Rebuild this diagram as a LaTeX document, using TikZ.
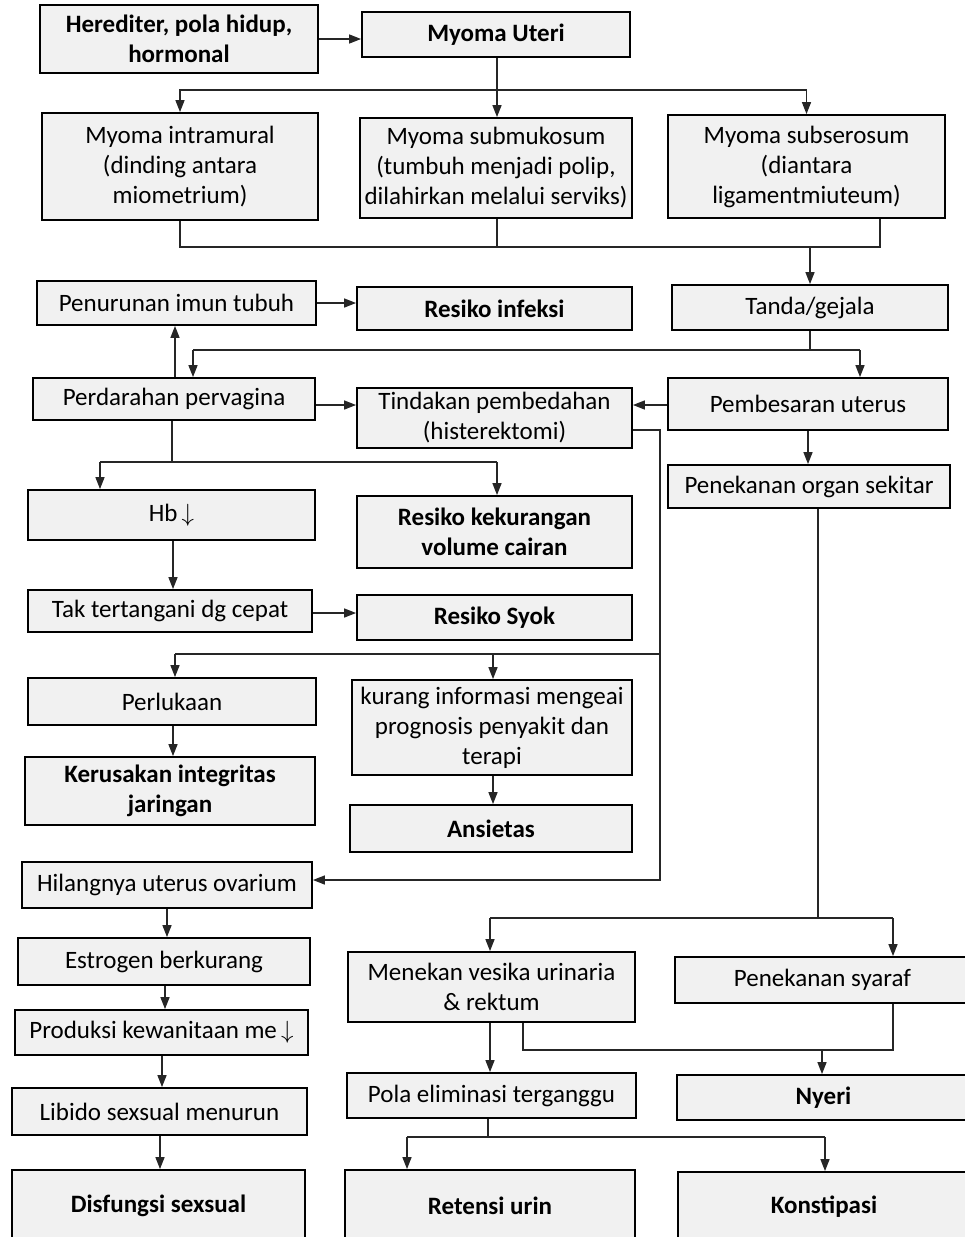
\documentclass[tikz,border=0pt]{standalone}
\usepackage{fontspec}
\setmainfont{Carlito}
\usetikzlibrary{arrows.meta,calc}
\tikzset{
  box/.style={draw=black, line width=1.8pt, fill=gray!11, align=center, inner sep=0pt,
    font=\fontsize{25}{30}\selectfont},
  bbox/.style={box, font=\fontsize{25}{30}\selectfont\bfseries},
  link/.style={line width=1.4pt, draw=black!85},
  arr/.style={link, -{Triangle[length=12pt,width=9pt]}},
}
\newcommand{\bx}[7]{% style, name, x1, x2, y1, y2, text
  \node[#1, minimum width={#4-#3}, minimum height={#6-#5}] (#2) at ({(#3+#4)/2},{(#5+#6)/2}) {#7};}
\begin{document}
\begin{tikzpicture}[x=1pt,y=-1pt]
\useasboundingbox (0,0) rectangle (965,1237);
% boxes
\bx{bbox}{her}{40}{318}{5}{73}{Herediter, pola hidup,\\hormonal}
\bx{bbox}{mu}{362}{630}{12}{57}{Myoma Uteri}
\bx{box}{mi}{42}{318}{113}{220}{Myoma intramural\\(dinding antara\\miometrium)}
\bx{box}{msm}{360}{632}{118}{218}{Myoma submukosum\\(tumbuh menjadi polip,\\dilahirkan melalui serviks)}
\bx{box}{mss}{668}{945}{115}{218}{Myoma subserosum\\(diantara\\ligamentmiuteum)}
\bx{box}{pit}{37}{316}{281}{325}{Penurunan imun tubuh}
\bx{bbox}{ri}{357}{632}{287}{330}{Resiko infeksi}
\bx{box}{tg}{672}{948}{285}{330}{Tanda/gejala}
\bx{box}{pp}{33}{315}{378}{420}{Perdarahan pervagina}
\bx{box}{tp}{357}{632}{388}{448}{Tindakan pembedahan\\(histerektomi)}
\bx{box}{pu}{668}{948}{378}{430}{Pembesaran uterus}
\bx{box}{pos}{668}{950}{465}{508}{Penekanan organ sekitar}
\bx{box}{hb}{28}{315}{490}{540}{Hb\,$\downarrow$}
\bx{bbox}{rkv}{357}{632}{496}{568}{Resiko kekurangan\\volume cairan}
\bx{box}{tt}{28}{312}{590}{632}{Tak tertangani dg cepat}
\bx{bbox}{rs}{357}{632}{595}{640}{Resiko Syok}
\bx{box}{pl}{28}{316}{678}{725}{Perlukaan}
\bx{bbox}{kij}{25}{315}{757}{825}{Kerusakan integritas\\jaringan}
\bx{box}{ki}{352}{632}{680}{775}{kurang informasi mengeai\\prognosis penyakit dan\\terapi}
\bx{bbox}{an}{350}{632}{805}{852}{Ansietas}
\bx{box}{huo}{22}{312}{862}{908}{Hilangnya uterus ovarium}
\bx{box}{mvu}{348}{635}{952}{1022}{Menekan vesika urinaria\\\&~rektum}
\bx{box}{ps}{675}{970}{957}{1003}{Penekanan syaraf}
\bx{box}{pet}{347}{636}{1073}{1118}{Pola eliminasi terganggu}
\bx{bbox}{ny}{677}{970}{1075}{1120}{Nyeri}
\bx{bbox}{ru}{345}{635}{1170}{1242}{Retensi urin}
\bx{bbox}{ko}{678}{970}{1172}{1242}{Konstipasi}
\bx{box}{eb}{18}{310}{938}{985}{Estrogen berkurang}
\bx{box}{pk}{15}{308}{1010}{1055}{Produksi kewanitaan me\,$\downarrow$}
\bx{box}{lsm}{12}{307}{1088}{1135}{Libido sexsual menurun}
\bx{bbox}{ds}{12}{305}{1170}{1242}{Disfungsi sexsual}
% junction coordinates
\coordinate (b1) at (497,90);
\coordinate (b2) at (880,247);
\coordinate (b3l) at (193,350);
\coordinate (b3r) at (860,350);
\coordinate (r10) at (0,405);
\coordinate (b4l) at (100,462);
\coordinate (b4r) at (497,462);
\coordinate (t1) at (660,430);
\coordinate (t2) at (660,880);
\coordinate (b5) at (660,654);
\coordinate (b5l) at (175,654);
\coordinate (b5m) at (493,654);
\coordinate (b6l) at (490,918);
\coordinate (b6r) at (893,918);
\coordinate (b7l) at (523,1050);
\coordinate (b7r) at (893,1050);
\coordinate (b7m) at (822,1050);
\coordinate (b8l) at (407,1137);
\coordinate (b8r) at (825,1137);
% connectors
\draw[arr] (her.east) -- (her.east -| mu.west);
\draw[arr] (mu.south -| b1) -- (b1 |- msm.north);
\draw[arr] (b1) -| (mi.north);
\draw[arr] (b1) -| (b1 -| mss.north) -- (mss.north);
\draw[link] (mss.south -| b2) -- (b2) -- (b2 -| mi.south) -- (mi.south);
\draw[link] (msm.south -| b1) -- (b1 |- b2);
\draw[arr] (tg.north |- b2) -- (tg.north);
\draw[arr] (pit.east) -- (pit.east -| ri.west);
\draw[link] (tg.south) -- (tg.south |- b3l);
\draw[link] (b3l) -- (b3r);
\draw[arr] (b3l) -- (b3l |- pp.north);
\draw[arr] (b3r) -- (b3r |- pu.north);
\draw[arr] (pp.north -| 175,0) -- (pit.south -| 175,0);
\draw[arr] (pp.east |- r10) -- (tp.west |- r10);
\draw[arr] (pu.west |- r10) -- (tp.east |- r10);
\draw[arr] (pu.south) -- (pu.south |- pos.north);
\draw[link] (pp.south -| 172,0) -- (b4l -| 172,0);
\draw[link] (b4l) -- (b4r);
\draw[arr] (b4l) -- (b4l |- hb.north);
\draw[arr] (b4r) -- (b4r |- rkv.north);
\draw[arr] (hb.south -| 173,0) -- (tt.north -| 173,0);
\draw[arr] (tt.east |- 0,613) -- (rs.west |- 0,613);
\draw[link] (tp.east |- t1) -- (t1) -- (b5);
\draw[arr] (b5) -- (t2) -- (huo.east |- t2);
\draw[link] (b5) -- (b5l);
\draw[arr] (b5l) -- (b5l |- pl.north);
\draw[arr] (b5m) -- (b5m |- ki.north);
\draw[arr] (pl.south -| 173,0) -- (kij.north -| 173,0);
\draw[arr] (ki.south -| b5m) -- (an.north -| b5m);
\draw[arr] (huo.south -| 167,0) -- (eb.north -| 167,0);
\draw[arr] (eb.south -| 165,0) -- (pk.north -| 165,0);
\draw[arr] (pk.south -| 162,0) -- (lsm.north -| 162,0);
\draw[arr] (lsm.south -| 160,0) -- (ds.north -| 160,0);
\draw[link] (pos.south -| 818,0) -- (818,918);
\draw[link] (b6l) -- (b6r);
\draw[arr] (b6l) -- (b6l |- mvu.north);
\draw[arr] (b6r) -- (b6r |- ps.north);
\draw[link] (ps.south -| b7r) -- (b7r) -- (b7l) -- (b7l |- mvu.south);
\draw[arr] (b7m) -- (b7m |- ny.north);
\draw[arr] (mvu.south -| b6l) -- (pet.north -| b6l);
\draw[link] (pet.south -| 488,0) -- (488,1137);
\draw[link] (b8l) -- (b8r);
\draw[arr] (b8l) -- (b8l |- ru.north);
\draw[arr] (b8r) -- (b8r |- ko.north);
\end{tikzpicture}
\end{document}
